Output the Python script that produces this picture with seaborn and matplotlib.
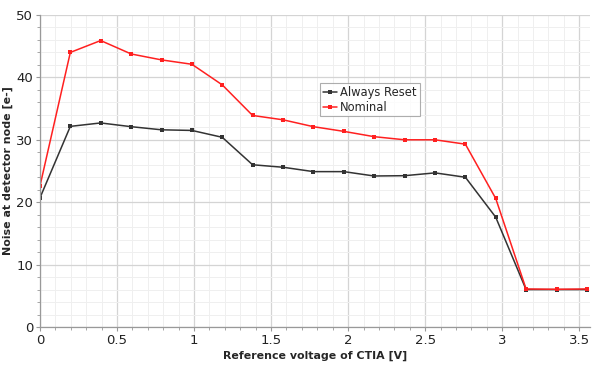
import matplotlib
matplotlib.use("Agg")
import matplotlib.pyplot as plt
import seaborn as sns
import pandas as pd
import numpy as np
from matplotlib.ticker import MultipleLocator

x_vals = [0.0, 0.197, 0.394, 0.592, 0.789, 0.986, 1.183, 1.380, 1.578, 1.775,
          1.972, 2.169, 2.367, 2.564, 2.761, 2.958, 3.155, 3.353, 3.550]
always_reset = [20.7, 32.15, 32.7, 32.1, 31.6, 31.5, 30.4, 26.0, 25.6, 24.9,
                24.9, 24.2, 24.25, 24.7, 24.0, 17.6, 6.0, 6.0, 6.0]
nominal = [22.6, 44.0, 45.9, 43.75, 42.8, 42.1, 38.8, 33.9, 33.2, 32.1,
           31.35, 30.5, 30.0, 30.0, 29.3, 20.6, 6.1, 6.05, 6.1]
series_names = ["Always Reset", "Nominal"]
colors = ["#333333", "#ff2020"]

df = pd.concat([
    pd.DataFrame({"x": x_vals, "y": always_reset, "s": series_names[0]}),
    pd.DataFrame({"x": x_vals, "y": nominal, "s": series_names[1]}),
])

sns.set_style("white")
plt.rcParams['font.family'] = ['DejaVu Sans']
fig = plt.figure(figsize=(5.94, 3.65), dpi=100)
ax = fig.add_axes([0.0673, 0.104, 0.926, 0.855])

sns.lineplot(data=df, x="x", y="y", hue="s", palette=colors, marker="s",
             markersize=2.2, markeredgewidth=0, linewidth=1.1, ax=ax)

ax.set_xlim(0, 3.57)
ax.set_ylim(0, 50)
ax.xaxis.set_minor_locator(MultipleLocator(0.1))
ax.yaxis.set_major_locator(MultipleLocator(10))
ax.yaxis.set_minor_locator(MultipleLocator(2))
ax.set_xticks([0, 0.5, 1, 1.5, 2, 2.5, 3, 3.5])
ax.set_xticklabels(["0", "0.5", "1", "1.5", "2", "2.5", "3", "3.5"])
ax.grid(which="major", color="#d4d4d4", linewidth=0.9)
ax.grid(which="minor", color="#efefef", linewidth=0.7)
ax.set_axisbelow(True)
for s in ["top", "right"]:
    ax.spines[s].set_visible(False)
for s in ["left", "bottom"]:
    ax.spines[s].set_color("#999999")
    ax.spines[s].set_linewidth(0.9)
ax.tick_params(which="major", direction="out", length=3, color="#999999",
               labelsize=9.5, labelcolor="#222222", pad=2)
ax.tick_params(which="minor", direction="out", length=2, color="#999999")
ax.tick_params(axis="x", which="both", bottom=True)
ax.tick_params(axis="y", which="both", left=True)

ax.set_xlabel("Reference voltage of CTIA [V]", fontsize=7.9, fontweight="bold", labelpad=3)
ax.set_ylabel("Noise at detector node [e-]", fontsize=7.9, fontweight="bold", labelpad=2)

leg = ax.legend(loc="upper left", bbox_to_anchor=(0.509, 0.782), fontsize=8.3,
                frameon=True, fancybox=False, handlelength=1.2, handletextpad=0.3,
                borderpad=0.25, labelspacing=0.15, borderaxespad=0)
leg.get_frame().set_edgecolor("#999999")
leg.get_frame().set_linewidth(0.8)

fig.savefig("out.png", dpi=100)
